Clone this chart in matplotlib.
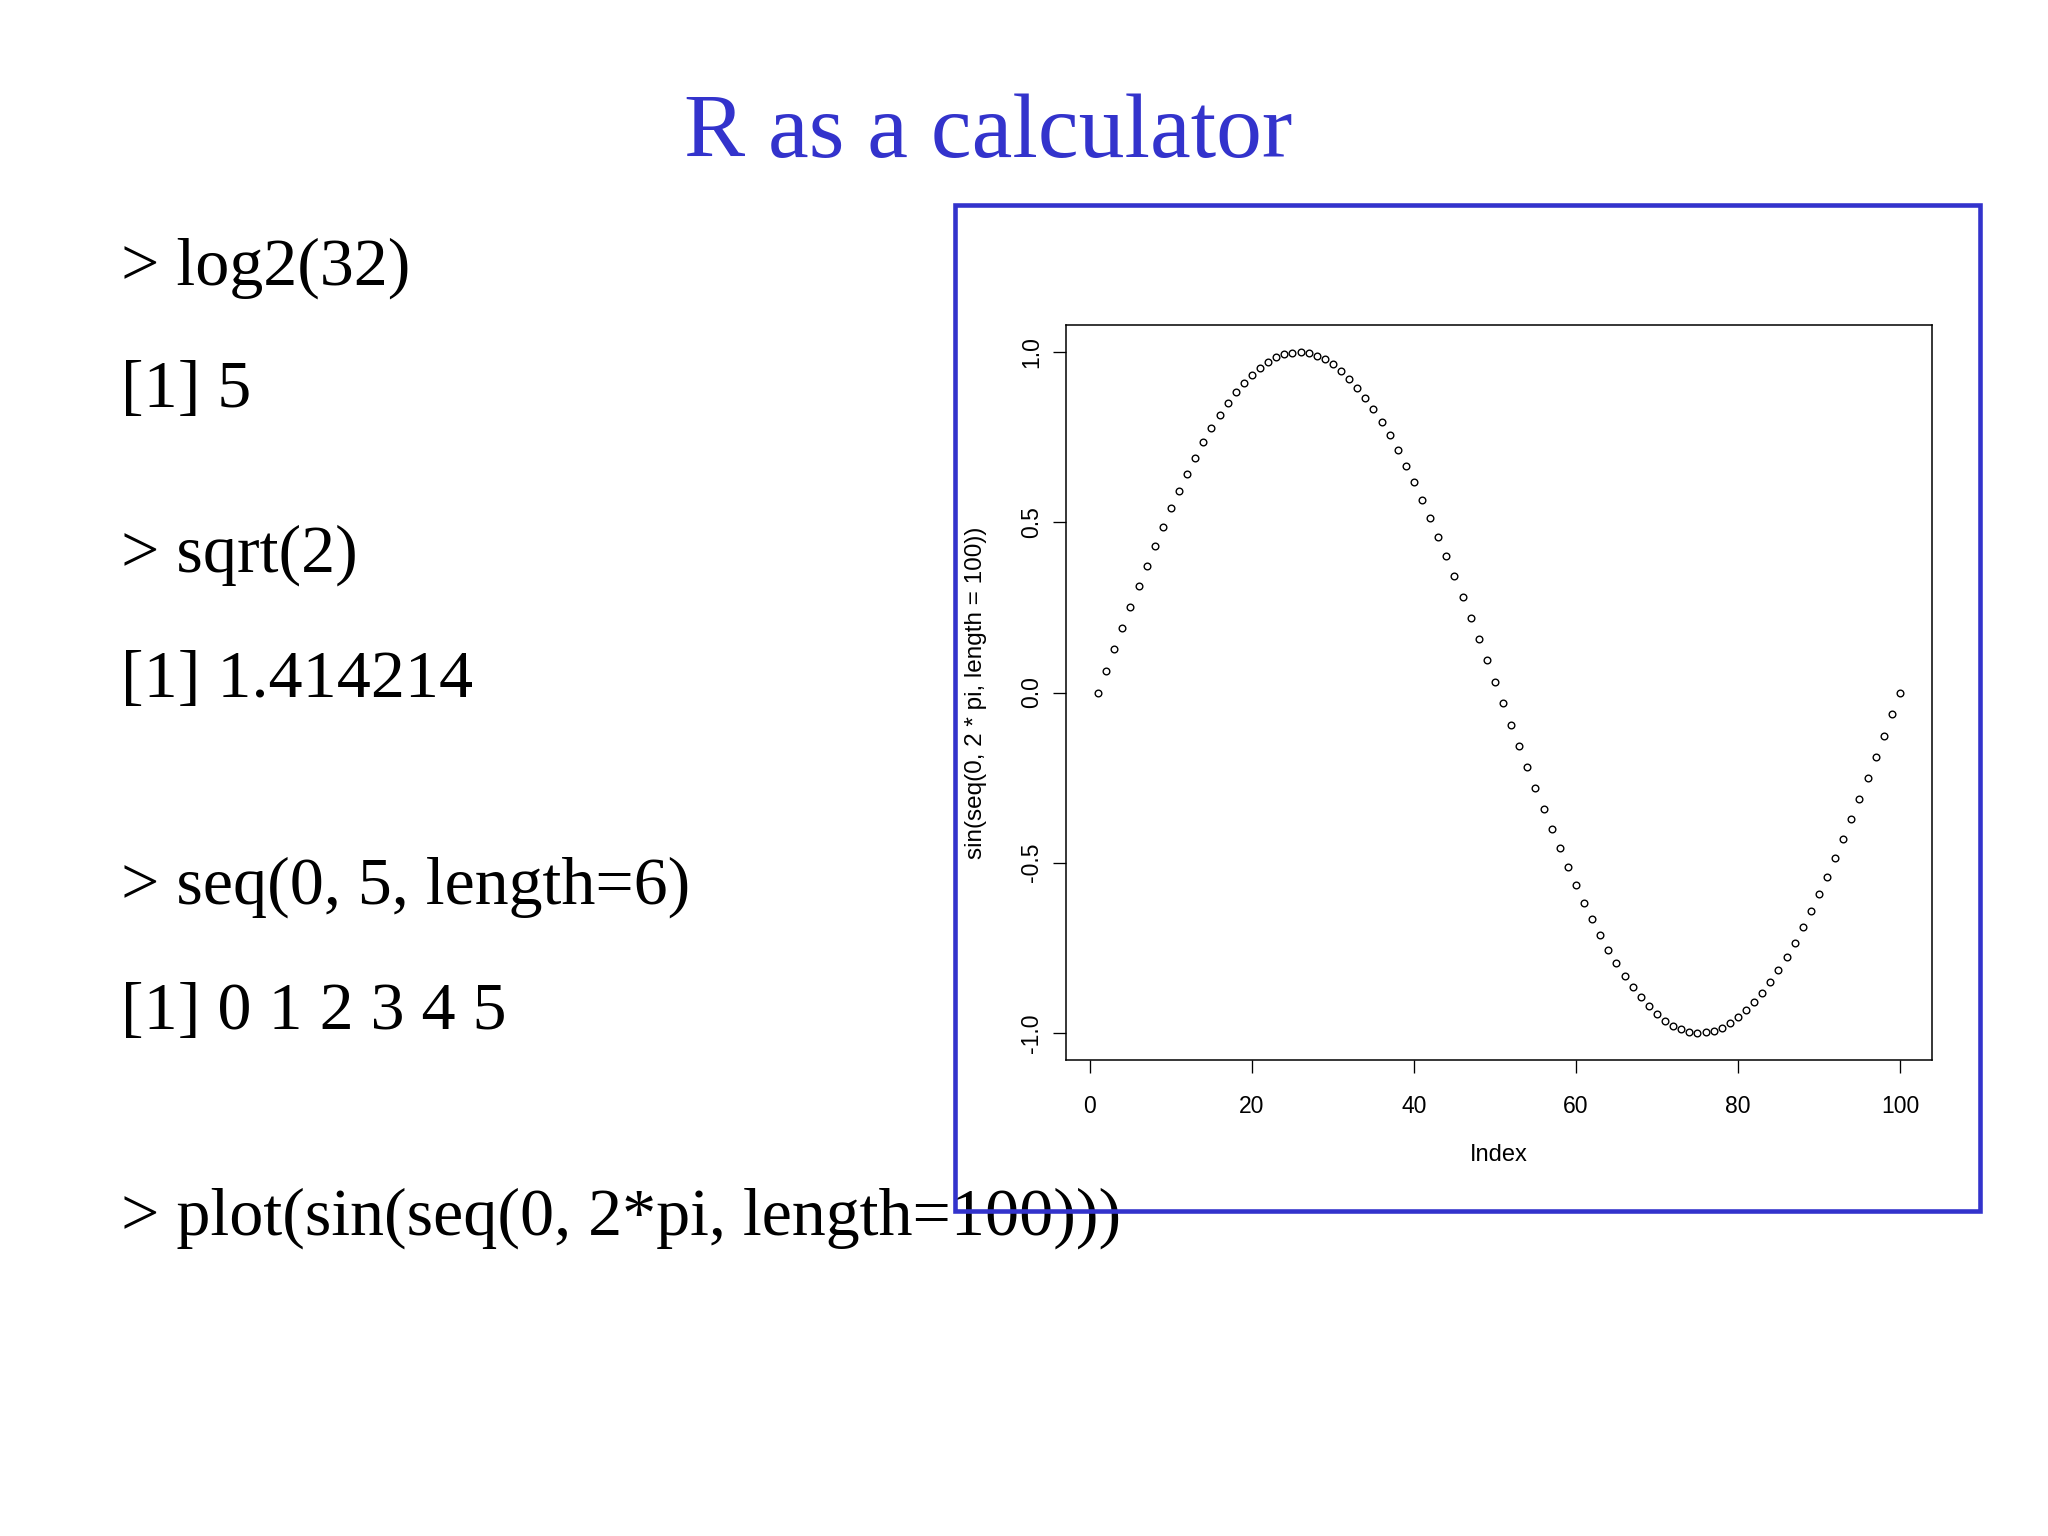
import matplotlib
matplotlib.use("Agg")
import matplotlib.pyplot as plt
from matplotlib.patches import Rectangle

# ── Veriler ───────────────────────────────────────────────────────────────────
index_vals = list(range(1, 101))
sin_vals = [
    0.000, 0.063, 0.127, 0.189, 0.251, 0.312, 0.372, 0.430, 0.486, 0.541,
    0.593, 0.643, 0.690, 0.735, 0.776, 0.815, 0.850, 0.882, 0.910, 0.934,
    0.955, 0.972, 0.985, 0.994, 0.999, 1.000, 0.997, 0.990, 0.979, 0.964,
    0.945, 0.922, 0.896, 0.866, 0.833, 0.796, 0.756, 0.713, 0.667, 0.618,
    0.567, 0.514, 0.458, 0.401, 0.342, 0.282, 0.220, 0.158, 0.095, 0.032,
    -0.032, -0.095, -0.158, -0.220, -0.282, -0.342, -0.401, -0.458, -0.514, -0.567,
    -0.618, -0.667, -0.713, -0.756, -0.796, -0.833, -0.866, -0.896, -0.922, -0.945,
    -0.964, -0.979, -0.990, -0.997, -1.000, -0.999, -0.994, -0.985, -0.972, -0.955,
    -0.934, -0.910, -0.882, -0.850, -0.815, -0.776, -0.735, -0.690, -0.643, -0.593,
    -0.541, -0.486, -0.430, -0.372, -0.312, -0.251, -0.189, -0.127, -0.063, 0.000,
]
x_ticks = [0, 20, 40, 60, 80, 100]
y_ticks = [-1.0, -0.5, 0.0, 0.5, 1.0]
y_tick_labels = ["-1.0", "-0.5", "0.0", "0.5", "1.0"]

slide_title = "R as a calculator"
console_lines = [
    "> log2(32)",
    "[1] 5",
    "> sqrt(2)",
    "[1] 1.414214",
    "> seq(0, 5, length=6)",
    "[1] 0 1 2 3 4 5",
    "> plot(sin(seq(0, 2*pi, length=100)))",
]

# ── Yerleşim (piksel, 2048x1536) ─────────────────────────────────────────────
W, H = 2048, 1536
BLUE = "#3333CC"
line_baselines = [285, 407, 572, 697, 904, 1029, 1235]

plt.rcParams["axes.unicode_minus"] = False

fig = plt.figure(figsize=(W / 100, H / 100), dpi=100)
fig.patch.set_facecolor("white")

# başlık
fig.text(988 / W, 1 - 157 / H, slide_title, ha="center", va="baseline",
         fontsize=66, color=BLUE, family="Liberation Serif", zorder=3)

# konsol satırları
for txt, yb in zip(console_lines, line_baselines):
    fig.text(121 / W, 1 - yb / H, txt, ha="left", va="baseline",
             fontsize=49, color="black", family="Liberation Serif", zorder=3)

# R grafiği
ax = fig.add_axes([1066 / W, 1 - 1060 / H, 866 / W, 735 / H])
ax.plot(index_vals, sin_vals, linestyle="none", marker="o",
        markersize=4.8, markerfacecolor="none", markeredgecolor="black",
        markeredgewidth=1.0)
ax.set_xlim(-2.96, 103.96)
ax.set_ylim(-1.08, 1.08)

rfont = "Liberation Sans"
ax.set_xticks(x_ticks)
ax.set_xticklabels([str(t) for t in x_ticks], family=rfont, fontsize=16.5)
ax.set_yticks(y_ticks)
ax.set_yticklabels(y_tick_labels, family=rfont, fontsize=16.5,
                   rotation=90, va="center")
ax.tick_params(direction="out", length=9.4, width=0.95, colors="black")
ax.tick_params(axis="x", pad=16)
ax.tick_params(axis="y", pad=7)
for sp in ax.spines.values():
    sp.set_linewidth(1.1)

ax.set_xlabel("Index", family=rfont, fontsize=17)
ax.set_ylabel("sin(seq(0, 2 * pi, length = 100))", family=rfont, fontsize=17.5)
ax.xaxis.set_label_coords(0.5, -(1155 - 1060) / 735)
ax.xaxis.label.set_va("center")
ax.yaxis.set_label_coords(-(1066 - 976) / 866, 0.5)
ax.yaxis.label.set_va("center")

# mavi çerçeve (metnin üstünde)
frame = Rectangle((955 / W, 1 - 1211 / H), (1980 - 955) / W, (1211 - 205) / H,
                  transform=fig.transFigure, fill=False, edgecolor=BLUE,
                  linewidth=3.3, zorder=10)
fig.patches.append(frame)

fig.savefig("out.png", dpi=100)
